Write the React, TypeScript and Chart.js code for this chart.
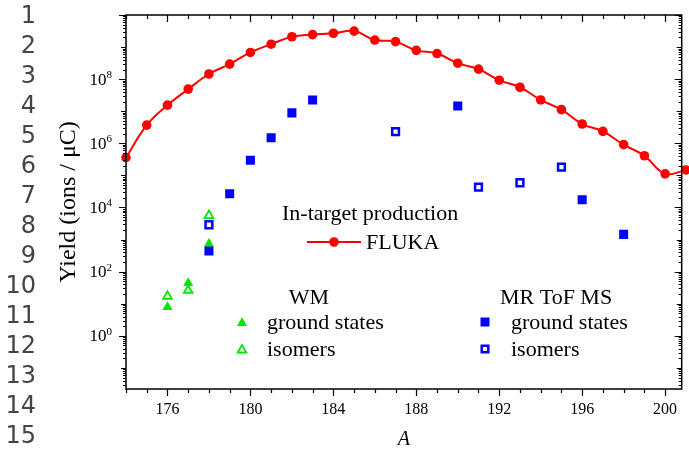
import React, { useEffect, useRef } from "react";
import { Chart, registerables } from "chart.js";

Chart.register(...registerables);

// ---- Data ----
const flukaA = [174, 175, 176, 177, 178, 179, 180, 181, 182, 183, 184, 185, 186, 187, 188, 189, 190, 191, 192, 193, 194, 195, 196, 197, 198, 199, 200, 201];
const flukaYield = [3.6e5, 3.7e6, 1.55e7, 4.9e7, 1.45e8, 2.95e8, 6.8e8, 1.23e9, 2.1e9, 2.45e9, 2.7e9, 3.15e9, 1.66e9, 1.48e9, 7.9e8, 6.3e8, 3.15e8, 2.05e8, 9.3e7, 5.6e7, 2.25e7, 1.12e7, 4.0e6, 2.35e6, 9.1e5, 4.1e5, 1.12e5, 1.48e5];

const mrGroundA = [178, 179, 180, 181, 182, 183, 190, 196, 198];
const mrGroundYield = [4.4e2, 2.7e4, 2.95e5, 1.5e6, 8.9e6, 2.25e7, 1.45e7, 1.75e4, 1.45e3];

const mrIsomerA = [178, 187, 191, 193, 195];
const mrIsomerYield = [2.9e3, 2.3e6, 4.3e4, 5.9e4, 1.8e5];

const wmGroundA = [176, 177, 178];
const wmGroundYield = [7.9, 44, 740];

const wmIsomerA = [176, 177, 178];
const wmIsomerYield = [17, 26, 5600];

const xTickLabels = [176, 180, 184, 188, 192, 196, 200];
const yTickExponents = [0, 2, 4, 6, 8];
const lineNumbers = ["1", "2", "3", "4", "5", "6", "7", "8", "9", "10", "11", "12", "13", "14", "15"];

const X_MIN = 174;
const X_MAX = 200.8;
const Y_MIN = 0.022;
const Y_MAX = 1e10;

const RED = "#ff0000";
const BLUE = "#0000ff";
const GREEN = "#00e600";
const SERIF = "'Liberation Serif', 'Times New Roman', serif";

const zip = (xs: number[], ys: number[]) => xs.map((x, i) => ({ x, y: ys[i] }));

const framePlugin = {
  id: "framePlugin",
  afterDraw(chart: any) {
    const ctx = chart.ctx as CanvasRenderingContext2D;
    const xs = chart.scales.x;
    const ys = chart.scales.y;
    const { left, right, top, bottom } = chart.chartArea;
    ctx.save();
    ctx.strokeStyle = "#000";
    ctx.lineWidth = 1.5;
    ctx.strokeRect(left, top, right - left, bottom - top);

    ctx.lineWidth = 1.2;
    // x ticks
    for (let a = Math.ceil(X_MIN); a <= X_MAX; a++) {
      const px = Math.round(xs.getPixelForValue(a)) + 0.5;
      const major = (a - 176) % 4 === 0;
      const len = major ? 7 : 4;
      ctx.beginPath();
      ctx.moveTo(px, bottom);
      ctx.lineTo(px, bottom + len);
      ctx.moveTo(px, top);
      ctx.lineTo(px, top + len);
      ctx.stroke();
    }
    // y ticks
    for (let e = -2; e <= 10; e++) {
      for (let m = 1; m <= 9; m++) {
        const v = m * Math.pow(10, e);
        if (v < Y_MIN || v > Y_MAX) continue;
        const py = Math.round(ys.getPixelForValue(v)) + 0.5;
        let len = 3;
        if (m === 1) len = e % 2 === 0 ? 7 : 5;
        ctx.beginPath();
        ctx.moveTo(left, py);
        ctx.lineTo(left - len, py);
        ctx.moveTo(right, py);
        ctx.lineTo(right - len, py);
        ctx.stroke();
      }
    }

    // x labels
    ctx.fillStyle = "#000";
    ctx.font = `16px ${SERIF}`;
    ctx.textAlign = "center";
    ctx.textBaseline = "middle";
    xTickLabels.forEach((a) => {
      ctx.fillText(String(a), xs.getPixelForValue(a), 410);
    });

    // y labels
    yTickExponents.forEach((e) => {
      const py = ys.getPixelForValue(Math.pow(10, e));
      ctx.font = `11px ${SERIF}`;
      const supW = ctx.measureText(String(e)).width;
      ctx.textAlign = "left";
      ctx.textBaseline = "middle";
      const supX = left - 14 - supW;
      ctx.fillText(String(e), supX, py - 4);
      ctx.font = `17px ${SERIF}`;
      ctx.textAlign = "right";
      ctx.fillText("10", supX, py + 1);
    });

    // axis titles
    ctx.font = `italic 20px ${SERIF}`;
    ctx.textAlign = "center";
    ctx.fillText("A", (left + right) / 2, 440);

    ctx.save();
    ctx.translate(69, (top + bottom) / 2);
    ctx.rotate(-Math.PI / 2);
    ctx.font = `24px ${SERIF}`;
    ctx.fillText("Yield (ions / \u03BCC)", 0, 0);
    ctx.restore();

    // legend texts
    ctx.font = `22px ${SERIF}`;
    ctx.textAlign = "left";
    ctx.textBaseline = "middle";
    ctx.fillText("In-target production", 282, 214);
    ctx.fillText("FLUKA", 366, 243);
    ctx.textAlign = "center";
    ctx.fillText("WM", 309, 298);
    ctx.textAlign = "left";
    ctx.fillText("ground states", 267, 323);
    ctx.fillText("isomers", 267, 350);
    ctx.fillText("MR ToF MS", 500, 298);
    ctx.fillText("ground states", 511, 323);
    ctx.fillText("isomers", 511, 350);

    // legend markers
    ctx.strokeStyle = RED;
    ctx.lineWidth = 2;
    ctx.beginPath();
    ctx.moveTo(307, 242);
    ctx.lineTo(361, 242);
    ctx.stroke();
    ctx.fillStyle = RED;
    ctx.beginPath();
    ctx.arc(334, 242, 4.8, 0, Math.PI * 2);
    ctx.fill();

    const tri = (cx: number, cy: number, r: number) => {
      ctx.beginPath();
      ctx.moveTo(cx, cy - r);
      ctx.lineTo(cx + r * 0.866, cy + r * 0.5);
      ctx.lineTo(cx - r * 0.866, cy + r * 0.5);
      ctx.closePath();
    };
    ctx.fillStyle = GREEN;
    tri(242, 323, 5.8);
    ctx.fill();
    ctx.strokeStyle = GREEN;
    ctx.lineWidth = 1.8;
    ctx.fillStyle = "#fff";
    tri(242, 350, 5);
    ctx.fill();
    ctx.stroke();

    ctx.fillStyle = BLUE;
    ctx.fillRect(485 - 4.5, 322 - 4.5, 9, 9);
    ctx.strokeStyle = BLUE;
    ctx.lineWidth = 2.5;
    ctx.fillStyle = "#fff";
    ctx.beginPath();
    ctx.rect(485 - 3.3, 349 - 3.3, 6.6, 6.6);
    ctx.fill();
    ctx.stroke();

    ctx.restore();
  },
};

export default function App() {
  const ref = useRef<HTMLCanvasElement | null>(null);
  useEffect(() => {
    if (!ref.current) return;
    const chart = new Chart(ref.current, {
      type: "scatter",
      data: {
        datasets: [
          {
            label: "FLUKA",
            data: zip(flukaA, flukaYield),
            showLine: true,
            borderColor: RED,
            backgroundColor: RED,
            borderWidth: 2,
            pointRadius: 4.8,
            pointBackgroundColor: RED,
            pointBorderColor: RED,
            pointBorderWidth: 0,
            tension: 0.4,
            clip: false,
          } as any,
          {
            label: "MR ground",
            data: zip(mrGroundA, mrGroundYield),
            pointStyle: "rect",
            pointRadius: 6.4,
            backgroundColor: BLUE,
            borderColor: BLUE,
            borderWidth: 0,
          },
          {
            label: "MR isomers",
            data: zip(mrIsomerA, mrIsomerYield),
            pointStyle: "rect",
            pointRadius: 4.8,
            backgroundColor: "#fff",
            borderColor: BLUE,
            borderWidth: 2.5,
          },
          {
            label: "WM ground",
            data: zip(wmGroundA, wmGroundYield),
            pointStyle: "triangle",
            pointRadius: 5.8,
            backgroundColor: GREEN,
            borderColor: GREEN,
            borderWidth: 0,
          },
          {
            label: "WM isomers",
            data: zip(wmIsomerA, wmIsomerYield),
            pointStyle: "triangle",
            pointRadius: 5,
            backgroundColor: "#fff",
            borderColor: GREEN,
            borderWidth: 1.8,
          },
        ],
      },
      options: {
        animation: false,
        responsive: false,
        devicePixelRatio: 1,
        layout: { padding: { top: 15, right: 4, left: 0, bottom: 0 } },
        plugins: { legend: { display: false }, tooltip: { enabled: false } },
        scales: {
          x: {
            type: "linear",
            min: X_MIN,
            max: X_MAX,
            grid: { display: false },
            border: { display: false },
            ticks: { display: false },
            afterFit: (s: any) => {
              s.height = 61;
            },
          },
          y: {
            type: "logarithmic",
            min: Y_MIN,
            max: Y_MAX,
            grid: { display: false },
            border: { display: false },
            ticks: { display: false },
            afterFit: (s: any) => {
              s.width = 126;
            },
          },
        },
      },
      plugins: [framePlugin],
    });
    return () => chart.destroy();
  }, []);

  return (
    <div style={{ position: "fixed", left: 0, top: 0, width: 689, height: 450, background: "#fff", overflow: "hidden" }}>
      <canvas ref={ref} width={689} height={450} style={{ position: "absolute", left: 0, top: 0 }} />
      <div
        style={{
          position: "absolute",
          left: 0,
          top: 0,
          width: 36,
          fontFamily: "'DejaVu Sans', sans-serif",
          fontSize: 24,
          lineHeight: "30px",
          color: "#444",
          textAlign: "right",
        }}
      >
        {lineNumbers.map((n) => (
          <div key={n}>{n}</div>
        ))}
      </div>
    </div>
  );
}
